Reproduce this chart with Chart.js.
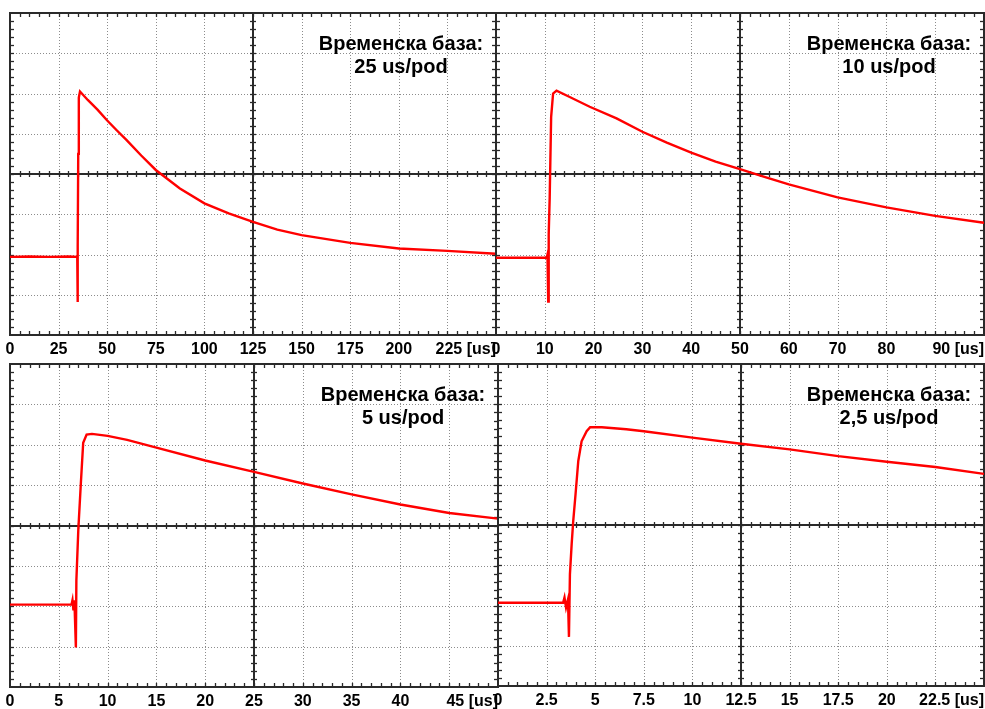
<!DOCTYPE html>
<html>
<head>
<meta charset="utf-8">
<script src="https://cdn.jsdelivr.net/npm/chart.js@4.4.1/dist/chart.umd.min.js"></script>
<style>
  html, body { margin: 0; padding: 0; background: #fff; overflow: hidden; }
  #wrap { position: relative; width: 985px; height: 709px; overflow: hidden; }
  #wrap canvas { position: absolute; }
</style>
</head>
<body>
<div id="wrap">
  <canvas id="scope1"></canvas>
  <canvas id="scope2"></canvas>
  <canvas id="scope3"></canvas>
  <canvas id="scope4"></canvas>
</div>
<script>
'use strict';

/* ── Traces: time [us] and vertical position [div], 0 = centre line ───── */

const TRACE1_T = [0, 10, 20, 30, 34.6, 34.75, 34.9, 35.1, 35.4, 36, 40, 45, 50, 55, 60, 67.5, 75, 87.4, 100, 112.5, 125, 137.5, 150, 175, 200, 225, 250];
const TRACE1_V = [-2.06, -2.05, -2.06, -2.05, -2.06, -3.18, -1.8, 0.5, 1.9, 2.05, 1.84, 1.6, 1.33, 1.08, 0.84, 0.46, 0.1, -0.36, -0.73, -0.98, -1.19, -1.38, -1.52, -1.71, -1.85, -1.91, -1.98];

const TRACE2_T = [0, 5, 10.4, 10.55, 10.7, 10.8, 11.0, 11.3, 11.7, 12.4, 15, 19.2, 24.7, 30, 35, 40, 45, 50, 55, 60, 70, 80, 90, 100];
const TRACE2_V = [-2.08, -2.08, -2.08, -2.0, -3.17, -1.5, -0.6, 1.42, 2.0, 2.07, 1.92, 1.67, 1.38, 1.05, 0.78, 0.53, 0.31, 0.12, -0.07, -0.26, -0.58, -0.83, -1.04, -1.21];

const TRACE3_T = [0, 6.3, 6.4, 6.5, 6.6, 6.75, 6.8, 7.0, 7.24, 7.5, 7.85, 8.4, 10, 12, 15, 20, 25, 30, 35, 40, 45, 50];
const TRACE3_V = [-1.96, -1.96, -1.85, -2.1, -1.85, -3.02, -1.36, -0.1, 0.96, 2.05, 2.25, 2.27, 2.22, 2.12, 1.93, 1.61, 1.33, 1.04, 0.77, 0.52, 0.31, 0.17];

const TRACE4_T = [0, 3.35, 3.42, 3.5, 3.6, 3.65, 3.7, 3.79, 3.87, 3.99, 4.13, 4.3, 4.56, 4.74, 5.34, 6.6, 7.5, 10, 12.5, 15, 17.5, 20, 22.5, 25];
const TRACE4_V = [-1.93, -1.93, -1.8, -2.05, -1.85, -2.78, -1.22, -0.47, 0.1, 0.77, 1.59, 2.08, 2.33, 2.43, 2.43, 2.38, 2.33, 2.17, 2.02, 1.88, 1.71, 1.57, 1.44, 1.27];

/* ── Axes: full-screen time span, time per division, caption ── */
const X_MAX  = [250, 100, 50, 25];
const X_STEP = [25, 10, 5, 2.5];
const TIMEBASE = ['25 us/pod', '10 us/pod', '5 us/pod', '2,5 us/pod'];
const CAPTION = 'Временска база:';
const UNIT = '[us]';

/* ── Plot-area boxes on the page: left, top, width, height ── */
const BOXES = [
    [10, 13, 486, 322],
    [496, 13, 488, 322],
    [10, 364, 488, 323],
    [498, 364, 486, 322],
];

const FONT = "'Liberation Sans', Arial, sans-serif";
const TICK_FONT = 16;
const PAD_L = 10, PAD_T = 13, AXIS_H = 30, TICK_PAD = 5;

/* ── Oscilloscope graticule: dotted divisions, centre cross, minor ticks ── */
const graticule = {
    id: 'graticule',
    beforeDatasetsDraw(chart) {
        const { ctx, chartArea: a, scales: { x, y } } = chart;
        const step = x.options.ticks.stepSize;
        const line = (x1, y1, x2, y2) => { ctx.beginPath(); ctx.moveTo(x1, y1); ctx.lineTo(x2, y2); ctx.stroke(); };
        ctx.save();

        ctx.strokeStyle = '#8c8c8c';
        ctx.lineWidth = 1;
        ctx.setLineDash([1, 2]);
        for (let i = 1; i < 10; i++) {
            if (i === 5) continue;
            const px = Math.round(x.getPixelForValue(i * step)) + 0.5;
            line(px, a.top, px, a.bottom);
        }
        for (let j = -3; j <= 3; j++) {
            if (j === 0) continue;
            const py = Math.round(y.getPixelForValue(j)) + 0.5;
            line(a.left, py, a.right, py);
        }
        ctx.setLineDash([]);

        const cx = Math.round(x.getPixelForValue(5 * step));
        const cy = Math.round(y.getPixelForValue(0));
        ctx.strokeStyle = '#2a2a2a';
        ctx.lineWidth = 2;
        line(cx, a.top, cx, a.bottom);
        line(a.left, cy, a.right, cy);

        ctx.lineWidth = 1.3;
        for (let k = 1; k < 50; k++) {
            const px = Math.round(x.getPixelForValue(k * step / 5)) + 0.5;
            line(px, cy - 3, px, cy + 3);
            line(px, a.top, px, a.top + 4);
            line(px, a.bottom - 4, px, a.bottom);
        }
        for (let k = -19; k < 20; k++) {
            const py = Math.round(y.getPixelForValue(k / 5)) + 0.5;
            line(cx - 3, py, cx + 3, py);
            line(a.left, py, a.left + 4, py);
            line(a.right - 4, py, a.right, py);
        }

        ctx.lineWidth = 2;
        ctx.strokeRect(a.left, a.top, a.right - a.left, a.bottom - a.top);
        ctx.restore();
    },
    afterDraw(chart) {
        const { ctx, chartArea: a, scales: { x } } = chart;
        const opts = chart.options.plugins.graticule;
        ctx.save();
        ctx.fillStyle = '#000';
        ctx.font = `bold 20px ${FONT}`;
        ctx.textAlign = 'center';
        ctx.textBaseline = 'alphabetic';
        const tx = a.right - 95;
        ctx.fillText(CAPTION, tx, a.top + 37);
        ctx.fillText(opts.timebase, tx, a.top + 60);

        // last division label carries the unit and is right-aligned to the frame
        const lastTick = x.ticks[x.ticks.length - 2].value;
        ctx.font = `bold ${TICK_FONT}px ${FONT}`;
        ctx.textAlign = 'right';
        ctx.textBaseline = 'middle';
        ctx.fillText(`${lastTick} ${UNIT}`, a.right, x.top + TICK_PAD + TICK_FONT * 0.6);
        ctx.restore();
    },
};

/* ── Build one scope panel ── */
function initScope(idx, times, values) {
    const [left, top, w, h] = BOXES[idx];
    const canvas = document.getElementById('scope' + (idx + 1));
    canvas.width = w + 2 * PAD_L;
    canvas.height = h + PAD_T + AXIS_H;
    canvas.style.left = (left - PAD_L) + 'px';
    canvas.style.top = (top - PAD_T) + 'px';

    const xMax = X_MAX[idx];
    const step = X_STEP[idx];
    const points = times.map((t, i) => ({ x: t, y: values[i] }));

    return new Chart(canvas.getContext('2d'), {
        type: 'line',
        data: {
            datasets: [{
                data: points,
                borderColor: '#ff0000',
                borderWidth: 2.4,
                pointRadius: 0,
                tension: 0,
                fill: false,
            }],
        },
        options: {
            responsive: false,
            animation: false,
            devicePixelRatio: 1,
            layout: { padding: { left: PAD_L, right: PAD_L, top: PAD_T, bottom: 0 } },
            plugins: {
                legend: { display: false },
                tooltip: { enabled: false },
                graticule: { timebase: TIMEBASE[idx] },
            },
            scales: {
                x: {
                    type: 'linear',
                    min: 0,
                    max: xMax,
                    grid: { display: false, drawTicks: false },
                    border: { display: false },
                    ticks: {
                        stepSize: step,
                        autoSkip: false,
                        maxRotation: 0,
                        padding: TICK_PAD,
                        color: '#000',
                        font: { family: FONT, size: TICK_FONT, weight: 'bold' },
                        callback: v => (v > xMax - step * 1.5 ? '' : String(v)),
                    },
                    afterFit: s => { s.height = AXIS_H; },
                },
                y: { display: false, min: -4, max: 4 },
            },
        },
        plugins: [graticule],
    });
}

initScope(0, TRACE1_T, TRACE1_V);
initScope(1, TRACE2_T, TRACE2_V);
initScope(2, TRACE3_T, TRACE3_V);
initScope(3, TRACE4_T, TRACE4_V);
</script>
</body>
</html>
